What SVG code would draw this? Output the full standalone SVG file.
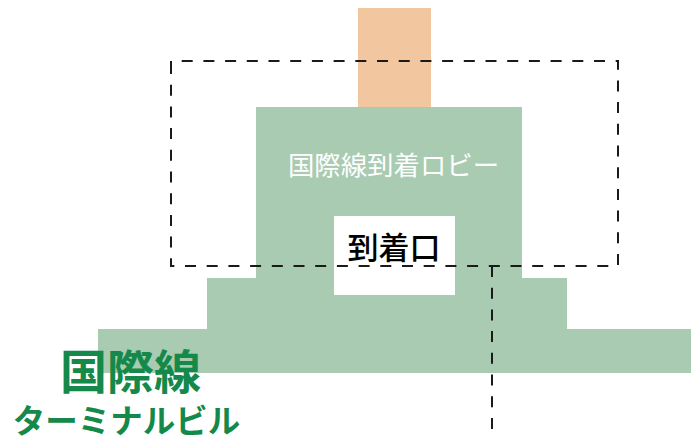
<svg xmlns="http://www.w3.org/2000/svg" width="693" height="439" viewBox="0 0 693 439">
<style>
.dash{fill:none;stroke:#1a1a1a;stroke-width:2;stroke-dasharray:11 10.7}
.jp{font-family:"Noto Sans CJK JP","Noto Sans",sans-serif;text-anchor:middle}
</style>
<rect width="693" height="439" fill="#ffffff"/>
<g id="tower"><rect x="358" y="8" width="73" height="100" fill="#f2c69e"/></g>
<g id="building">
<path d="M256 107H522V278H567V329H691V373H98V329H207V278H256Z" fill="#a8cbb1"/>
<text class="jp" x="393.5" y="175" font-size="26.4" fill="#ffffff">国際線到着ロビー</text>
</g>
<g id="arrival">
<rect x="334" y="216" width="121" height="79" fill="#ffffff"/>
<text class="jp" x="394" y="259" font-size="31" font-weight="500" fill="#000000">到着口</text>
</g>
<g id="connectors">
<path class="dash" d="M171 72V61H618V266H171V72"/>
<path class="dash" d="M492 266V439"/>
</g>
<g id="title">
<text class="jp" x="130.5" y="389" font-size="47" font-weight="700" fill="#14894a">国際線</text>
<text class="jp" x="126.5" y="433" font-size="32.5" font-weight="700" fill="#14894a">ターミナルビル</text>
</g>
</svg>
